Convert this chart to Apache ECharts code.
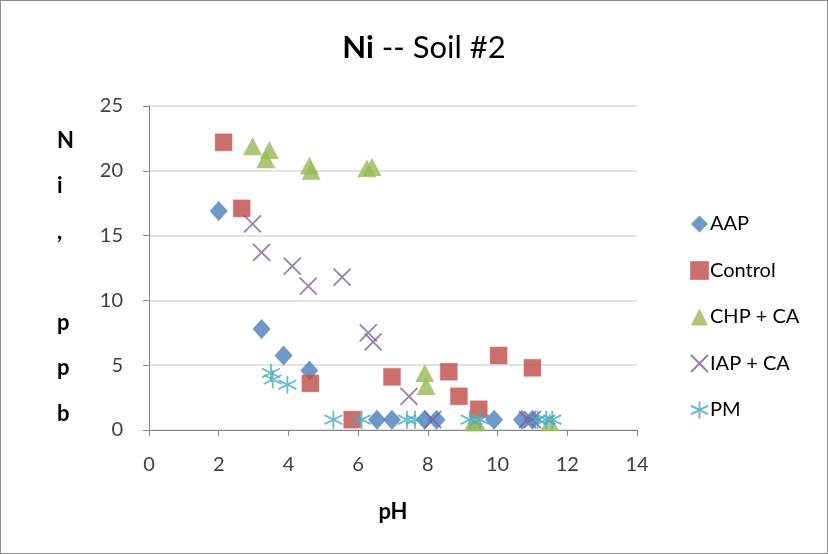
<!DOCTYPE html>
<html>
<head>
<meta charset="utf-8">
<script src="https://cdn.jsdelivr.net/npm/echarts@6/dist/echarts.min.js"></script>
<style>
  html, body { margin: 0; padding: 0; background: #fff; }
  #chart { width: 828px; height: 554px; box-sizing: border-box; border: 1px solid #8c8c8c; }
</style>
</head>
<body>
<div id="chart"></div>
<script>
// Ni concentration (ppb) versus pH for each treatment, Soil #2
const aapPH   = [2.0, 3.23, 3.86, 4.6, 6.54, 6.97, 7.91, 8.25, 9.9, 10.7, 11.0];
const aapNi   = [16.9, 7.8, 5.75, 4.6, 0.8, 0.8, 0.8, 0.8, 0.8, 0.8, 0.8];

const controlPH = [2.14, 2.66, 4.63, 5.83, 6.97, 8.6, 8.89, 9.46, 10.03, 11.0];
const controlNi = [22.2, 17.1, 3.6, 0.8, 4.1, 4.5, 2.6, 1.6, 5.75, 4.8];

const chpPH = [2.97, 3.45, 3.35, 4.6, 4.65, 6.25, 6.4, 7.91, 7.95, 9.3, 9.4, 11.5];
const chpNi = [21.9, 21.6, 20.9, 20.4, 20.0, 20.2, 20.3, 4.4, 3.4, 0.6, 0.6, 0.6];

const iapPH = [2.97, 3.23, 4.11, 4.57, 5.54, 6.29, 6.43, 7.46, 8.14, 10.86, 11.0];
const iapNi = [15.9, 13.7, 12.65, 11.1, 11.8, 7.5, 6.8, 2.6, 0.8, 0.8, 0.8];

const pmPH = [3.5, 3.55, 3.97, 5.29, 6.1, 7.4, 7.63, 9.2, 9.5, 11.15, 11.4, 11.57];
const pmNi = [4.4, 3.9, 3.5, 0.8, 0.8, 0.8, 0.8, 0.8, 0.8, 0.8, 0.8, 0.8];

const seriesNames = ['AAP', 'Control', 'CHP + CA', 'IAP + CA', 'PM'];
const xTicks = [0, 2, 4, 6, 8, 10, 12, 14];
const yTicks = [0, 5, 10, 15, 20, 25];
const yTitle = 'N\ni\n,\n\np\np\nb';

const FONT = 'Lato, "Open Sans", sans-serif';
const pairs = (xs, ys) => xs.map((x, i) => [x, ys[i]]);

const crossPath = 'path://M0,0L10,10M10,0L0,10';
const starPath = 'path://M5,0L5,10M0,2.5L10,7.5M0,7.5L10,2.5';

const chart = echarts.init(document.getElementById('chart'));
chart.setOption({
  animation: false,
  backgroundColor: '#fff',
  title: {
    text: '{b|Ni} -- Soil #2',
    left: 418,
    textAlign: 'center',
    top: 26,
    textStyle: {
      fontFamily: FONT,
      fontSize: 31,
      fontWeight: 'normal',
      color: '#000',
      rich: { b: { fontFamily: FONT, fontSize: 31, fontWeight: 'bold', color: '#000' } }
    }
  },
  // stacked vertical axis title, one character per line
  graphic: [{
    type: 'text',
    left: 56,
    top: 117,
    style: {
      text: yTitle,
      font: 'bold 22px ' + FONT,
      fill: '#000',
      lineHeight: 45.5,
      align: 'center'
    }
  }],
  grid: { left: 148, right: 190, top: 105, bottom: 123, containLabel: false },
  xAxis: {
    type: 'value', min: 0, max: 14, interval: 2,
    name: 'pH', nameLocation: 'middle', nameGap: 71,
    nameTextStyle: { fontFamily: FONT, fontSize: 22, fontWeight: 'bold', color: '#000' },
    axisLine: { show: true, lineStyle: { color: '#868686', width: 1 } },
    axisTick: { show: true, inside: false, length: 6, lineStyle: { color: '#868686' } },
    axisLabel: { fontFamily: FONT, fontSize: 20, color: '#404040', margin: 25,
                 formatter: v => xTicks.includes(v) ? String(v) : '' },
    splitLine: { show: false }
  },
  yAxis: {
    type: 'value', min: 0, max: 25, interval: 5,
    axisLine: { show: true, lineStyle: { color: '#868686', width: 1 } },
    axisTick: { show: true, inside: false, length: 6, lineStyle: { color: '#868686' } },
    axisLabel: { fontFamily: FONT, fontSize: 20, color: '#404040', margin: 26,
                 formatter: v => yTicks.includes(v) ? String(v) : '' },
    splitLine: { show: true, lineStyle: { color: '#d9d9d9', width: 1.5 } }
  },
  legend: {
    orient: 'vertical', left: 684, top: 208, itemGap: 26.5,
    itemWidth: 17, itemHeight: 17,
    textStyle: { fontFamily: FONT, fontSize: 20, color: '#000', padding: [0, 0, 0, -3] },
    data: seriesNames
  },
  series: [
    { name: seriesNames[0], type: 'scatter', symbol: 'diamond', symbolSize: [18, 20],
      itemStyle: { color: '#4a7ebb' }, data: pairs(aapPH, aapNi) },
    { name: seriesNames[1], type: 'scatter', symbol: 'rect', symbolSize: 17,
      itemStyle: { color: '#be4b48', borderColor: '#d06a66', borderWidth: 0.5 }, data: pairs(controlPH, controlNi) },
    { name: seriesNames[2], type: 'scatter', symbol: 'triangle', symbolSize: [19, 18],
      itemStyle: { color: '#98b954' }, data: pairs(chpPH, chpNi) },
    { name: seriesNames[3], type: 'scatter', symbol: crossPath, symbolSize: 17,
      itemStyle: { color: 'rgba(0,0,0,0)', borderColor: '#7d60a0', borderWidth: 1.8 }, data: pairs(iapPH, iapNi) },
    { name: seriesNames[4], type: 'scatter', symbol: starPath, symbolSize: 18,
      itemStyle: { color: 'rgba(0,0,0,0)', borderColor: '#46aac5', borderWidth: 1.8 }, data: pairs(pmPH, pmNi) }
  ]
});
</script>
</body>
</html>
